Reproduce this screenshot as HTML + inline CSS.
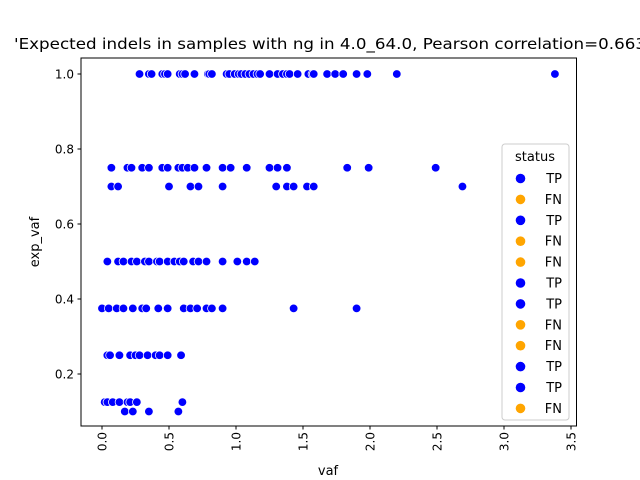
<!DOCTYPE html>
<html><head><meta charset="utf-8"><style>
body{margin:0;background:#fff;}
svg{display:block;font-family:"DejaVu Sans","Liberation Sans",sans-serif;}
</style></head><body>
<svg id="chart" width="640" height="480" viewBox="0 0 640 480" xmlns="http://www.w3.org/2000/svg">
<rect width="640" height="480" fill="#fff"/>
<text x="14" y="49" font-size="15" textLength="632" lengthAdjust="spacingAndGlyphs">'Expected indels in samples with ng in 4.0_64.0, Pearson correlation=0.663</text>
<g id="axes"></g>
<g id="points"></g>
<rect x="81" y="58" width="495.5" height="368" fill="none" stroke="#000" stroke-width="1"/>
<g id="legend"></g>
<text x="328" y="475" font-size="13" text-anchor="middle">vaf</text>
<text x="39" y="242" font-size="13" text-anchor="middle" transform="rotate(-90 39 242)">exp_vaf</text>
</svg>
<script>
const xTicks = [0, 0.5, 1.0, 1.5, 2.0, 2.5, 3.0, 3.5];
const xTickLabels = ["0.0","0.5","1.0","1.5","2.0","2.5","3.0","3.5"];
const yTicks = [0.2, 0.4, 0.6, 0.8, 1.0];
const yTickLabels = ["0.2","0.4","0.6","0.8","1.0"];
const legendLabels = ["TP","FN","TP","FN","FN","TP","TP","FN","FN","TP","TP","FN"];
const row100 = [0.28,0.35,0.37,0.45,0.47,0.49,0.58,0.60,0.62,0.69,0.79,0.80,0.82,0.93,0.95,0.99,1.02,1.04,1.07,1.10,1.13,1.16,1.18,1.25,1.31,1.35,1.38,1.40,1.46,1.54,1.57,1.58,1.68,1.74,1.80,1.90,1.98,2.20,3.38];
const row075 = [0.07,0.19,0.22,0.30,0.35,0.45,0.49,0.57,0.60,0.64,0.69,0.78,0.90,0.96,1.08,1.25,1.31,1.38,1.83,1.99,2.49];
const row070 = [0.07,0.12,0.50,0.66,0.72,0.90,1.30,1.38,1.43,1.53,1.58,2.69];
const row050 = [0.04,0.12,0.16,0.22,0.26,0.32,0.35,0.41,0.43,0.49,0.54,0.58,0.61,0.68,0.72,0.78,0.90,1.01,1.08,1.14];
const row0375 = [0.0,0.05,0.11,0.16,0.23,0.30,0.33,0.42,0.49,0.61,0.66,0.71,0.78,0.82,0.90,1.43,1.90];
const row025 = [0.04,0.06,0.13,0.21,0.25,0.28,0.34,0.40,0.43,0.49,0.59];
const row0125 = [0.02,0.04,0.08,0.13,0.19,0.21,0.26,0.60];
const row010 = [0.17,0.23,0.35,0.57];
const rowLevels = [1.0, 0.75, 0.7, 0.5, 0.375, 0.25, 0.125, 0.1];
const rows = [row100,row075,row070,row050,row0375,row025,row0125,row010];

const NS = "http://www.w3.org/2000/svg";
function xs(v){ return 102 + v*134; }
function ys(v){ return 74 + (1.0 - v)*375; }
function mk(tag, attrs, parent){ const e=document.createElementNS(NS,tag); for(const k in attrs) e.setAttribute(k,attrs[k]); parent.appendChild(e); return e; }

const axes = document.getElementById('axes');
xTicks.forEach((t,i)=>{
  const x = xs(t);
  const l = mk('line',{x1:x,x2:x,y1:426,y2:429.5,stroke:'#000'},axes);
  
  
  const tx = mk('text',{x:x+4.5,y:432,'font-size':12,'text-anchor':'end',transform:`rotate(-90 ${x+4.5} 432)`},axes);
  
  
  tx.textContent = xTickLabels[i];
});
yTicks.forEach((t,i)=>{
  const y = ys(t);
  const l = mk('line',{x1:77.5,x2:81,y1:y,y2:y,stroke:'#000'},axes);
  
  
  const tx = mk('text',{x:74,y:y+4.5,'font-size':12,'text-anchor':'end'},axes);
  
  
  tx.textContent = yTickLabels[i];
});

const pts = document.getElementById('points');
rows.forEach((r,ri)=>{
  r.forEach(v=>{
    const c = mk('circle',{cx:xs(v),cy:ys(rowLevels[ri]),r:4.3,fill:'#0000ff',stroke:'#fff','stroke-width':0.75},pts);
    
    
  });
});

const lg = document.getElementById('legend');
const box = mk('rect',{x:502,y:144,width:67,height:276,rx:3,fill:'#fff','fill-opacity':0.8,stroke:'#ccc'},lg);


const lt = mk('text',{x:535,y:161,'font-size':13,'text-anchor':'middle'},lg);


lt.textContent='status';
legendLabels.forEach((s,i)=>{
  const y = 178.5 + i*20.9;
  const g = mk('g',{},lg);
  
  
  mk('circle',{cx:520.5,cy:y,r:4.8,fill:s==='TP'?'#0000ff':'#ffa500'},g);
  const t = mk('text',{x:562,y:y+4.5,'font-size':13,'text-anchor':'end'},g);
  t.textContent = s;
});
</script>
</body></html>
